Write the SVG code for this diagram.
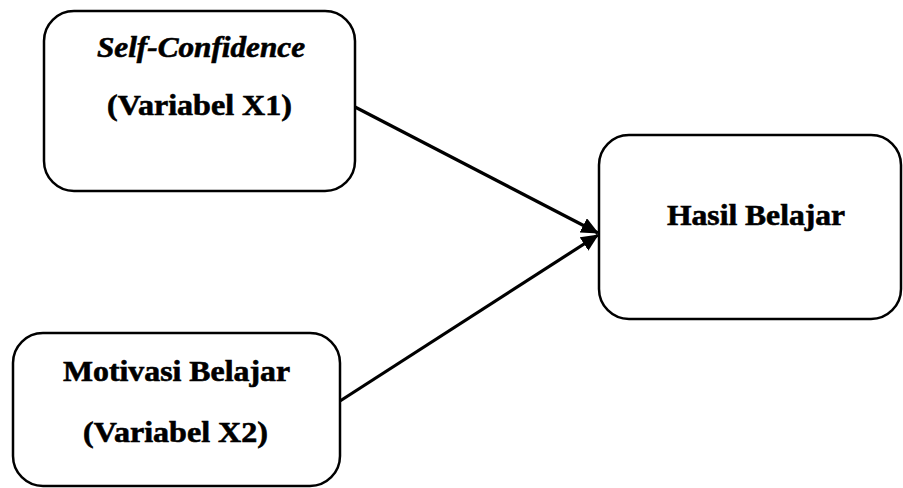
<svg xmlns="http://www.w3.org/2000/svg" width="903" height="488" viewBox="0 0 903 488">
<style>
.box{fill:#fff;stroke:#000;stroke-width:2.5}
.t{font-family:"Liberation Serif","Times New Roman",serif;font-weight:bold;font-size:29px;fill:#000;stroke:#000;stroke-width:0.6;text-anchor:middle}
.it{font-style:italic}
.conn{stroke:#000;stroke-width:3.2;fill:none;marker-end:url(#ah)}
</style>
<defs>
<marker id="ah" markerWidth="6" markerHeight="5" refX="5.2" refY="2.5" orient="auto" markerUnits="strokeWidth">
<path d="M0,0 L5.5,2.5 L0,5 Z" fill="#000"/>
</marker>
</defs>
<rect width="903" height="488" fill="#fff"/>
<g id="connectors">
<line class="conn" x1="355" y1="107" x2="598" y2="233"/>
<line class="conn" x1="340" y1="401" x2="598" y2="235"/>
</g>
<g id="node-x1">
<rect class="box" x="44" y="11" width="311" height="180" rx="30"/>
<text class="t it" x="201" y="57" textLength="208" lengthAdjust="spacingAndGlyphs">Self-Confidence</text>
<text class="t" x="199.5" y="115" textLength="185" lengthAdjust="spacingAndGlyphs">(Variabel X1)</text>
</g>
<g id="node-x2">
<rect class="box" x="13" y="333" width="327" height="153" rx="30"/>
<text class="t" x="176.5" y="381" textLength="227" lengthAdjust="spacingAndGlyphs">Motivasi Belajar</text>
<text class="t" x="175.5" y="442" textLength="185" lengthAdjust="spacingAndGlyphs">(Variabel X2)</text>
</g>
<g id="node-y">
<rect class="box" x="599" y="135" width="302" height="184" rx="30"/>
<text class="t" x="756" y="225" textLength="178" lengthAdjust="spacingAndGlyphs">Hasil Belajar</text>
</g>
</svg>
